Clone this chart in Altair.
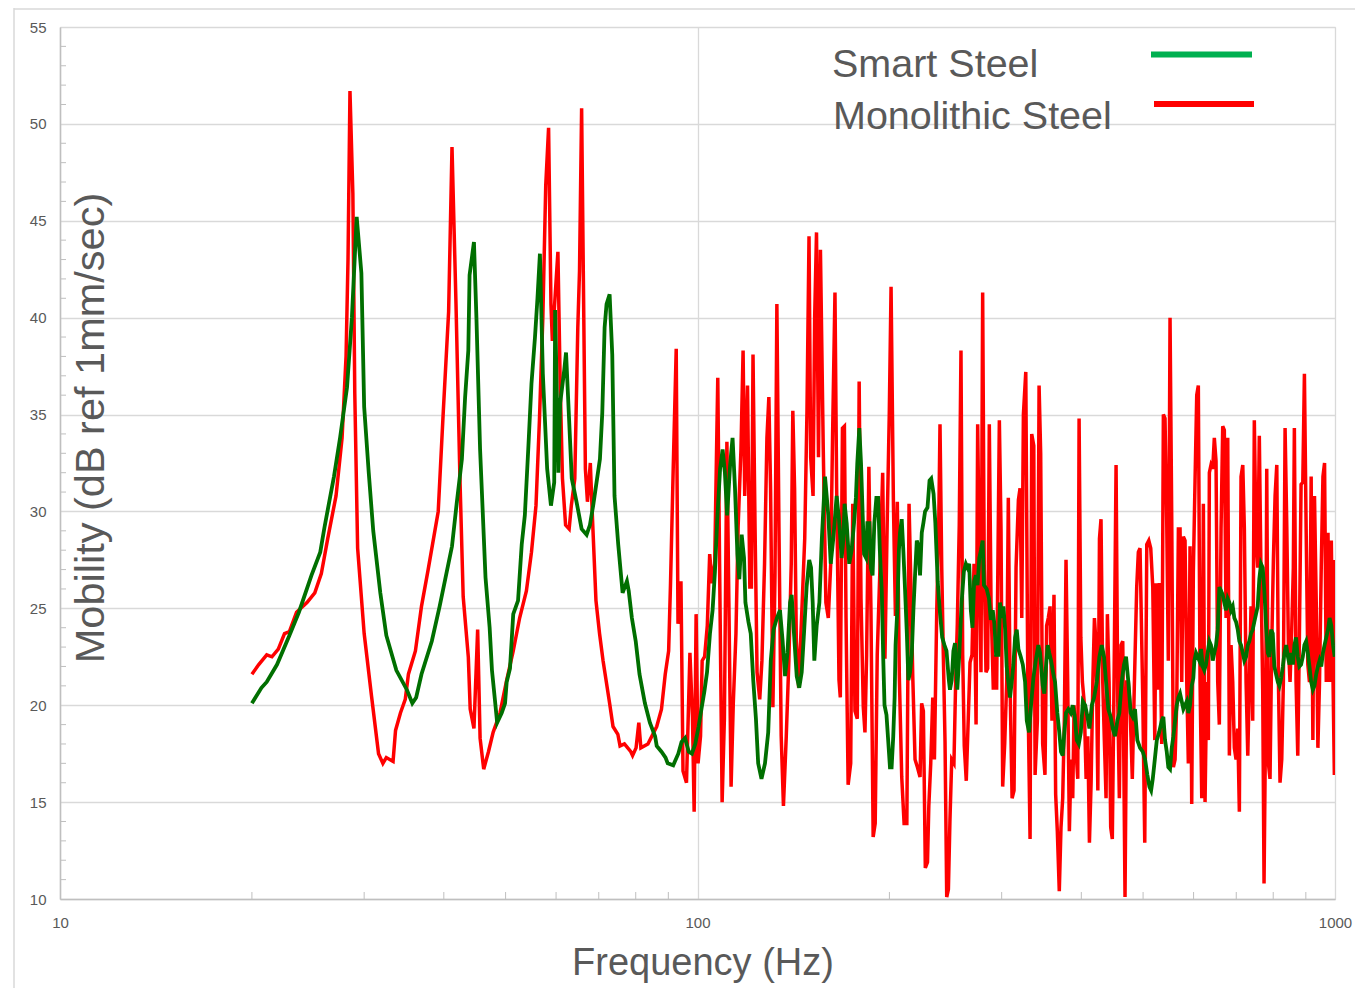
import altair as alt
import pandas as pd

series_names = ["Smart Steel", "Monolithic Steel"]
line_colors = ["#006f00", "#ff0000"]
legend_colors = ["#00b050", "#ff0000"]
x_title = "Frequency (Hz)"
y_title = "Mobility (dB ref 1mm/sec)"

mono_freq = [
    20.0, 20.5, 21.1, 21.5, 22.0, 22.5, 22.9, 23.5, 24.4, 25.1, 25.7, 26.3, 27.1, 27.7, 28.1, 28.3, 28.5, 28.8, 29.0, 29.3,
    30.0, 30.8, 31.6, 32.1, 32.5, 33.3, 33.6, 34.2, 34.8, 35.2, 36.1, 36.9, 37.8, 39.2, 39.9, 40.7, 41.2, 41.8, 42.4, 42.9,
    43.7, 44.0, 44.6, 45.2, 45.6, 46.2, 47.0, 47.8, 49.0, 50.2, 51.4, 52.6, 53.9, 54.9, 55.8, 56.5, 57.2, 57.8, 58.4, 58.9,
    59.2, 59.9, 60.4, 60.9, 61.4, 62.1, 62.9, 63.4, 64.2, 64.9, 65.3, 65.8, 66.2, 66.7, 67.2, 67.9, 68.4, 69.3, 70.2, 71.1,
    72.8, 73.7, 75.0, 75.6, 76.8, 78.6, 79.1, 80.1, 80.9, 81.5, 83.6, 86.3, 87.8, 89.0, 90.1, 90.7, 91.6, 92.6, 93.2, 94.2,
    94.9, 96.1, 97.3, 98.2, 98.8, 99.5, 100.2, 101.1, 101.7, 102.6, 103.6, 104.5, 105.4, 106.4, 107.6, 108.3, 109.3, 110.2, 111.2, 112.0,
    112.9, 113.8, 114.9, 115.8, 117.0, 117.9, 118.6, 119.8, 120.8, 121.5, 122.2, 123.1, 124.0, 125.2, 126.2, 127.4, 128.5, 129.4, 130.2, 131.3,
    132.3, 133.2, 134.2, 135.3, 136.4, 137.8, 139.1, 140.3, 141.1, 142.0, 142.9, 144.1, 145.5, 147.3, 148.5, 149.6, 150.5, 151.8, 152.7, 153.7,
    154.8, 155.9, 157.5, 159.0, 160.4, 161.8, 162.9, 164.3, 165.3, 166.7, 167.5, 168.8, 170.0, 171.0, 172.3, 173.9, 175.2, 176.6, 178.1, 179.3,
    180.5, 182.0, 183.1, 184.2, 185.7, 187.1, 188.6, 190.0, 191.4, 193.3, 195.2, 196.8, 198.5, 199.9, 201.2, 202.9, 204.4, 205.8, 207.3, 209.1,
    210.9, 213.0, 214.7, 216.2, 217.6, 219.4, 221.3, 223.4, 224.7, 226.1, 227.7, 229.5, 230.6, 232.2, 233.9, 235.3, 237.3, 239.0, 240.1, 241.6,
    243.0, 244.5, 246.0, 247.5, 248.9, 250.5, 252.5, 254.1, 255.6, 257.4, 259.0, 260.6, 262.1, 264.0, 265.9, 267.6, 269.5, 271.5, 273.5, 275.1,
    276.7, 278.4, 280.1, 281.7, 283.5, 285.2, 286.9, 288.7, 291.1, 292.9, 294.6, 297.5, 299.3, 301.1, 303.3, 305.5, 307.3, 309.2, 311.5, 313.7,
    316.0, 318.7, 320.6, 322.6, 324.5, 327.3, 329.7, 332.4, 334.4, 336.9, 338.5, 341.3, 343.4, 345.4, 347.9, 350.8, 352.9, 355.0, 357.3, 359.8,
    362.4, 364.6, 366.8, 369.4, 371.7, 374.0, 376.2, 378.5, 380.8, 383.1, 385.5, 387.8, 389.7, 392.5, 394.9, 396.8, 399.3, 401.6, 404.1, 407.0,
    409.5, 411.9, 414.4, 417.0, 419.4, 422.0, 424.6, 427.1, 429.5, 432.2, 434.7, 437.4, 439.5, 442.2, 444.8, 447.4, 450.2, 453.5, 456.3, 458.9,
    461.7, 464.6, 468.4, 471.3, 474.1, 476.9, 480.9, 484.4, 488.6, 491.5, 494.5, 499.4, 503.0, 506.7, 510.4, 514.0, 517.8, 521.6, 524.0, 527.3,
    530.3, 534.8, 538.0, 541.2, 544.6, 547.7, 551.1, 554.5, 557.8, 561.2, 564.7, 568.0, 571.4, 574.9, 578.3, 581.8, 585.4, 588.8, 592.4, 596.0,
    599.5, 603.2, 606.9, 610.4, 614.2, 618.0, 621.6, 625.4, 629.2, 632.9, 635.2, 639.0, 643.0, 646.7, 650.7, 654.7, 658.5, 662.6, 666.6, 670.5,
    674.7, 678.8, 682.8, 687.0, 691.2, 695.2, 699.5, 703.8, 707.9, 712.2, 716.7, 720.8, 725.3, 729.8, 733.9, 738.4, 742.9, 747.2, 751.8, 756.4,
    760.8, 765.5, 770.2, 773.9, 778.7, 781.5, 786.2, 790.8, 795.7, 800.5, 805.4, 810.4, 815.2, 819.9, 825.0, 829.9, 835.0, 840.2, 845.1, 850.1,
    855.3, 860.3, 863.5, 868.8, 874.2, 879.3, 884.7, 890.2, 895.4, 901.0, 906.5, 911.9, 917.5, 923.2, 928.6, 934.3, 940.1, 945.6, 951.5, 957.4,
    963.0, 969.0, 975.0, 980.7, 986.8, 993.0, 997.7, 1000.0,
]
mono_db = [
    21.6, 22.1, 22.6, 22.5, 22.9, 23.7, 23.8, 24.8, 25.3, 25.8, 26.8, 28.6, 30.8, 33.8, 38.0, 43.0, 51.7, 46.4, 36.1, 28.1,
    23.7, 20.5, 17.5, 17.0, 17.3, 17.1, 18.7, 19.6, 20.3, 21.6, 22.8, 25.1, 27.0, 30.0, 35.0, 40.3, 48.8, 40.7, 31.7, 25.6,
    22.5, 19.8, 18.8, 23.9, 18.3, 16.7, 17.6, 18.6, 19.6, 21.3, 22.8, 24.5, 25.9, 27.9, 30.3, 34.7, 40.0, 46.8, 49.8, 40.7,
    38.8, 41.5, 43.4, 36.6, 31.7, 29.3, 29.1, 30.3, 31.7, 39.5, 42.4, 50.8, 42.4, 32.2, 30.5, 32.5, 29.8, 25.4, 23.7, 22.3,
    20.1, 18.9, 18.5, 17.9, 18.0, 17.6, 17.4, 17.8, 19.1, 17.8, 18.0, 18.9, 19.8, 21.6, 22.8, 26.2, 32.2, 38.4, 24.2, 26.4,
    16.6, 16.0, 22.7, 19.4, 14.5, 24.7, 17.0, 18.4, 22.3, 22.5, 24.1, 27.8, 26.3, 27.3, 36.9, 27.3, 15.0, 19.3, 33.6, 25.3,
    15.8, 20.1, 23.7, 29.2, 33.2, 38.3, 30.8, 36.5, 26.1, 26.1, 38.1, 29.2, 21.7, 20.3, 22.3, 27.3, 33.8, 35.9, 31.2, 19.9,
    26.7, 40.7, 29.2, 18.4, 14.8, 18.4, 22.3, 27.3, 35.2, 31.2, 23.3, 20.9, 24.2, 28.6, 35.2, 44.2, 32.8, 30.8, 40.1, 44.4,
    32.8, 43.5, 33.2, 25.3, 24.5, 27.3, 34.0, 41.3, 31.2, 21.3, 20.4, 34.3, 34.4, 24.5, 15.9, 17.0, 30.4, 19.7, 19.3, 36.7,
    25.5, 19.9, 18.6, 22.6, 32.3, 24.9, 13.2, 13.9, 22.6, 27.1, 32.0, 22.4, 29.8, 35.0, 41.6, 30.5, 24.6, 30.5, 21.5, 16.3,
    13.9, 13.9, 30.4, 26.0, 21.5, 17.2, 16.8, 16.3, 20.1, 19.7, 11.6, 11.9, 14.8, 17.0, 20.4, 17.2, 24.9, 29.3, 34.5, 27.1,
    22.6, 18.1, 10.1, 10.5, 14.1, 17.2, 17.0, 21.3, 24.2, 29.3, 38.3, 22.6, 17.9, 16.1, 19.3, 22.2, 22.6, 27.3, 19.0, 34.5,
    27.6, 21.7, 41.3, 27.1, 21.7, 21.9, 34.5, 25.3, 20.8, 22.6, 20.8, 34.7, 29.1, 15.8, 18.0, 21.2, 30.7, 21.2, 15.2, 15.6,
    27.1, 30.6, 31.2, 24.5, 35.0, 37.2, 21.2, 13.1, 34.0, 33.4, 16.4, 19.2, 36.5, 33.0, 18.0, 16.4, 24.1, 24.5, 25.1, 19.2,
    25.7, 15.4, 13.5, 10.4, 13.7, 15.2, 19.2, 27.5, 21.2, 13.5, 17.2, 15.2, 20.0, 17.6, 16.2, 34.8, 23.5, 21.2, 20.2, 16.2,
    18.4, 12.9, 16.0, 21.2, 24.5, 23.1, 15.6, 28.6, 29.6, 21.2, 18.2, 15.2, 24.7, 21.2, 13.7, 13.1, 21.2, 32.4, 20.2, 15.2,
    23.1, 23.3, 10.1, 21.2, 21.2, 20.0, 16.2, 21.0, 26.1, 27.9, 28.1, 20.4, 12.9, 28.3, 28.5, 28.1, 26.1, 18.2, 26.3, 20.8,
    26.3, 18.0, 35.0, 34.8, 29.4, 22.3, 40.0, 29.6, 16.8, 17.2, 20.2, 29.1, 29.1, 21.2, 28.7, 28.5, 21.2, 17.0, 28.2, 14.9,
    26.9, 31.6, 36.0, 36.5, 21.2, 15.2, 30.4, 15.0, 21.2, 18.2, 32.0, 32.4, 32.2, 33.8, 32.6, 21.2, 19.0, 29.1, 34.4, 34.2,
    24.5, 33.8, 17.4, 23.1, 21.2, 17.8, 17.2, 18.8, 14.5, 31.8, 32.4, 29.1, 21.2, 17.4, 21.2, 25.1, 19.2, 34.7, 28.7, 27.1,
    33.9, 26.7, 20.8, 10.8, 20.0, 32.2, 17.0, 16.2, 23.1, 27.5, 30.8, 32.4, 21.2, 16.0, 17.2, 21.2, 34.3, 29.2, 23.1, 21.2,
    23.9, 27.1, 34.3, 21.2, 17.4, 23.5, 31.4, 31.5, 37.1, 29.1, 22.1, 21.2, 31.8, 18.2, 30.8, 25.5, 17.8, 21.2, 27.1, 31.8,
    32.5, 21.2, 28.9, 21.2, 28.5, 21.2, 16.4, 27.5,
]

smart_freq = [
    20.0, 20.7, 21.1, 21.9, 22.9, 23.7, 24.8, 25.6, 26.0, 26.9, 27.5, 28.2, 28.7, 29.2, 29.7, 30.0, 30.5, 31.0, 31.8, 32.5,
    33.7, 35.0, 35.7, 36.2, 36.9, 38.3, 39.4, 40.2, 41.2, 41.9, 42.7, 43.2, 43.7, 43.9, 44.6, 45.0, 45.6, 46.5, 47.2, 47.6,
    48.1, 48.5, 49.3, 49.9, 50.2, 50.8, 51.4, 52.3, 53.0, 53.6, 54.3, 54.9, 55.6, 56.1, 56.6, 57.2, 58.1, 58.9, 59.6, 59.8,
    60.5, 60.9, 61.8, 62.2, 62.9, 63.5, 64.6, 65.8, 67.0, 67.8, 68.6, 70.3, 70.9, 71.5, 72.0, 72.8, 73.5, 74.1, 75.1, 76.3,
    77.5, 78.0, 78.9, 80.0, 81.1, 82.7, 84.2, 85.8, 86.3, 87.8, 89.1, 89.8, 91.6, 93.3, 94.4, 95.6, 96.9, 98.0, 99.2, 100.4,
    101.2, 102.5, 103.5, 104.6, 105.6, 106.5, 107.4, 108.5, 109.5, 110.4, 111.3, 112.5, 113.5, 114.5, 115.5, 116.3, 117.3, 118.3, 118.9, 120.2,
    121.2, 122.3, 123.5, 124.5, 126.0, 127.6, 129.1, 130.3, 131.6, 133.2, 134.7, 136.0, 137.2, 138.4, 139.7, 140.5, 141.7, 143.1, 144.4, 145.7,
    146.9, 148.3, 149.7, 150.7, 151.6, 152.5, 153.8, 155.3, 156.7, 158.5, 160.4, 161.8, 163.3, 165.3, 166.7, 168.3, 169.3, 170.1, 171.4, 173.0,
    174.5, 176.0, 177.2, 178.1, 179.4, 180.5, 181.6, 182.5, 183.8, 184.7, 186.1, 187.0, 188.2, 189.4, 190.8, 192.0, 193.2, 194.6, 195.6, 196.5,
    197.9, 199.2, 200.4, 201.6, 202.8, 203.8, 204.5, 205.8, 207.0, 207.8, 209.1, 210.3, 211.6, 213.0, 214.2, 215.5, 216.8, 218.1, 219.4, 220.8,
    222.1, 223.4, 224.8, 226.1, 227.5, 229.5, 231.2, 232.6, 234.6, 236.1, 238.1, 239.9, 242.0, 244.0, 245.8, 247.9, 248.9, 250.5, 252.0, 253.5,
    255.6, 257.4, 259.6, 261.7, 263.6, 265.2, 266.8, 268.4, 270.0, 271.6, 273.3, 275.0, 276.7, 278.4, 280.1, 281.4, 284.2, 286.6, 288.4, 290.5,
    292.2, 294.0, 296.5, 298.2, 300.1, 301.9, 303.8, 305.5, 307.3, 309.2, 311.1, 313.0, 314.9, 316.8, 318.7, 321.4, 323.8, 326.5, 328.5, 331.2,
    333.6, 336.4, 339.3, 342.5, 344.6, 348.0, 350.0, 352.1, 354.3, 356.3, 358.6, 361.6, 363.8, 366.8, 369.4, 371.7, 374.0, 376.2, 378.5, 381.7,
    385.0, 387.8, 390.7, 393.5, 396.4, 399.3, 402.2, 405.6, 409.0, 411.9, 415.5, 418.9, 423.0, 427.0, 430.6, 434.2, 437.4, 441.0, 444.8, 448.1,
    451.8, 455.6, 458.9, 462.8, 466.7, 470.1, 474.1, 478.1, 481.6, 485.6, 489.7, 494.5, 499.4, 503.6, 507.8, 511.5, 514.7, 517.8, 521.6, 525.4,
    529.8, 534.8, 538.0, 541.2, 544.6, 547.7, 551.1, 554.5, 557.8, 561.2, 564.7, 568.0, 571.4, 574.9, 578.3, 581.8, 585.4, 588.8, 592.4, 596.0,
    599.5, 601.7, 605.3, 609.0, 612.6, 616.4, 620.1, 623.7, 627.5, 631.2, 635.2, 639.0, 643.0, 646.7, 650.7, 654.7, 658.5, 662.6, 666.6, 670.5,
    674.7, 678.8, 682.8, 687.0, 691.2, 695.2, 699.5, 703.8, 707.9, 712.2, 716.7, 720.8, 725.3, 729.8, 733.9, 738.4, 742.9, 747.2, 751.8, 756.4,
    760.8, 765.5, 770.2, 774.8, 779.6, 784.4, 788.9, 793.8, 798.7, 803.3, 808.3, 813.4, 818.1, 823.2, 828.3, 833.1, 838.3, 843.6, 848.6, 853.7,
    859.0, 863.5, 868.8, 874.2, 879.3, 884.7, 890.2, 895.4, 901.0, 906.5, 911.9, 917.5, 923.2, 928.6, 934.3, 940.1, 945.6, 951.5, 957.4, 963.0,
    969.0, 975.0, 980.7, 986.8, 993.0, 998.8,
]
smart_db = [
    20.1, 20.9, 21.2, 22.1, 23.6, 24.8, 26.7, 27.9, 29.2, 31.8, 33.8, 36.4, 40.0, 45.2, 42.3, 35.4, 32.0, 29.0, 25.8, 23.6,
    21.8, 20.8, 20.1, 20.4, 21.6, 23.3, 25.1, 26.5, 28.2, 30.4, 32.7, 35.9, 38.3, 42.2, 43.9, 40.0, 33.2, 26.6, 24.0, 21.8,
    20.3, 19.1, 19.6, 20.1, 21.2, 21.9, 24.7, 25.4, 28.3, 29.8, 33.4, 36.6, 39.0, 41.0, 43.3, 37.1, 32.2, 30.3, 31.5, 40.4,
    32.0, 35.6, 37.3, 38.2, 34.7, 31.7, 30.5, 29.1, 28.8, 29.3, 30.3, 32.7, 35.1, 39.5, 40.7, 41.2, 38.1, 30.8, 28.3, 25.8,
    26.4, 25.9, 24.5, 23.3, 21.6, 20.1, 19.1, 18.4, 17.9, 17.6, 17.3, 17.0, 16.9, 17.5, 18.1, 18.3, 17.6, 17.5, 18.0, 18.9,
    19.6, 20.7, 21.7, 23.7, 24.9, 26.9, 29.6, 32.2, 33.2, 32.0, 29.8, 32.4, 33.8, 31.2, 27.8, 26.5, 28.8, 27.6, 25.3, 24.3,
    23.7, 21.3, 19.3, 17.0, 16.2, 17.0, 18.6, 22.3, 23.9, 24.5, 24.9, 23.3, 21.5, 22.7, 25.3, 25.7, 23.7, 21.5, 20.9, 21.7,
    23.7, 26.1, 27.5, 27.1, 25.3, 22.3, 24.1, 25.3, 28.6, 31.8, 29.8, 27.3, 28.6, 30.8, 29.6, 27.6, 28.5, 30.4, 29.4, 27.3,
    28.0, 29.4, 30.7, 32.5, 34.3, 32.5, 29.8, 27.8, 27.6, 29.4, 29.4, 27.1, 26.7, 29.4, 30.7, 30.7, 28.0, 25.8, 22.4, 20.0,
    19.5, 18.1, 16.8, 16.8, 18.4, 20.4, 23.1, 24.9, 28.0, 28.9, 29.6, 28.0, 26.0, 23.7, 21.3, 21.7, 22.6, 24.9, 26.7, 28.5,
    28.2, 26.7, 28.9, 29.4, 30.0, 30.2, 31.6, 31.7, 30.9, 29.4, 26.4, 24.9, 23.5, 23.1, 22.8, 21.3, 20.8, 21.3, 22.8, 23.2,
    20.8, 22.6, 25.3, 26.9, 27.3, 27.1, 27.3, 24.9, 24.0, 26.4, 26.7, 26.2, 27.6, 28.0, 28.5, 26.2, 26.0, 25.5, 24.4, 24.9,
    24.2, 22.6, 22.6, 25.3, 24.5, 25.1, 23.9, 22.0, 21.2, 20.4, 21.2, 22.1, 23.5, 23.9, 22.9, 22.5, 22.1, 21.2, 19.2, 18.6,
    20.0, 21.4, 22.3, 23.1, 22.7, 21.0, 20.6, 22.0, 23.1, 22.7, 22.3, 21.6, 21.2, 19.6, 18.6, 17.6, 17.4, 18.6, 19.6, 19.8,
    19.6, 20.0, 19.4, 18.2, 18.0, 18.6, 20.2, 20.0, 19.4, 18.8, 20.0, 20.4, 21.2, 22.5, 23.1, 22.5, 21.2, 19.8, 19.4, 18.8,
    18.4, 19.2, 19.6, 21.2, 22.1, 22.5, 21.2, 19.6, 19.4, 19.8, 18.2, 17.8, 17.6, 17.2, 16.4, 15.8, 15.6, 16.2, 17.2, 18.2,
    18.6, 19.2, 19.4, 18.2, 17.6, 16.8, 16.7, 17.8, 18.4, 19.2, 20.0, 20.4, 20.6, 20.2, 19.8, 20.0, 20.2, 19.6, 20.0, 21.0,
    21.4, 22.3, 22.7, 22.5, 22.3, 22.9, 22.0, 21.8, 22.1, 22.7, 23.3, 23.1, 22.3, 22.7, 23.1, 23.9, 26.1, 25.9, 25.7, 25.3,
    24.9, 25.5, 25.3, 24.9, 25.1, 24.5, 24.3, 23.9, 23.3, 23.1, 22.7, 22.3, 22.5, 23.1, 23.3, 23.7, 23.9, 24.3, 24.7, 25.1,
    26.5, 27.3, 27.1, 25.9, 24.1, 22.7, 22.5, 23.9, 23.7, 22.0, 21.6, 21.2, 21.0, 21.4, 22.0, 22.7, 23.1, 22.5, 22.1, 22.7,
    22.1, 23.1, 23.5, 22.5, 22.0, 22.1, 22.5, 23.1, 23.3, 22.7, 22.0, 21.2, 20.8, 21.0, 21.6, 22.0, 22.3, 22.0, 22.7, 23.1,
    23.5, 23.9, 24.5, 24.1, 23.1, 22.5,
]

y_major = [10, 15, 20, 25, 30, 35, 40, 45, 50, 55]
y_minor = [11, 12, 13, 14, 16, 17, 18, 19, 21, 22, 23, 24, 26, 27, 28, 29, 31, 32, 33, 34,
           36, 37, 38, 39, 41, 42, 43, 44, 46, 47, 48, 49, 51, 52, 53, 54]
x_major = [10, 100, 1000]
x_minor = [20, 30, 40, 50, 60, 70, 80, 90, 200, 300, 400, 500, 600, 700, 800, 900]

W, H = 1275, 872
FONT = "Liberation Sans"
TXT = "#595959"
GRID = "#d9d9d9"
AXIS = "#bfbfbf"

x_scale = alt.Scale(type="log", domain=[10, 1000], nice=False)
y_scale = alt.Scale(domain=[10, 55], nice=False, zero=False)

mono_df = pd.DataFrame({"freq": mono_freq, "db": mono_db})
smart_df = pd.DataFrame({"freq": smart_freq, "db": smart_db})

x_axis = alt.Axis(values=x_major, format="d", title=None, grid=True, gridColor=GRID, gridWidth=1.3,
                  domainColor=AXIS, domainWidth=1.5, ticks=False, labelFontSize=15, labelColor=TXT,
                  labelFont=FONT, labelPadding=16, labelFlush=False)
y_axis = alt.Axis(values=y_major, title=None, grid=True, gridColor=GRID, gridWidth=1.3,
                  domainColor=AXIS, domainWidth=1.5, ticks=False, labelFontSize=15, labelColor=TXT,
                  labelFont=FONT, labelPadding=14)

X = alt.X("freq:Q", scale=x_scale, axis=x_axis)
Y = alt.Y("db:Q", scale=y_scale, axis=y_axis)

red = alt.Chart(mono_df).mark_line(color=line_colors[1], strokeWidth=3.5, clip=True).encode(x=X, y=Y)
green = alt.Chart(smart_df).mark_line(color=line_colors[0], strokeWidth=3.8, clip=True).encode(x=X, y=Y)

ymin_df = pd.DataFrame({"db": y_minor})
xmin_df = pd.DataFrame({"freq": x_minor})
ymin = alt.Chart(ymin_df).mark_rule(color=AXIS, strokeWidth=1).encode(
    y=Y, x=alt.value(0), x2=alt.value(6))
xmin = alt.Chart(xmin_df).mark_rule(color=AXIS, strokeWidth=1).encode(
    x=X, y=alt.value(H - 7), y2=alt.value(H))

one = pd.DataFrame({"k": [0]})
frame_left = alt.Chart(one).mark_rule(color="#d9d9d9", strokeWidth=1.5).encode(
    x=alt.value(-46), y=alt.value(-19), y2=alt.value(H + 90))
frame_top = alt.Chart(one).mark_rule(color="#d9d9d9", strokeWidth=1.5).encode(
    x=alt.value(-46), x2=alt.value(W + 30), y=alt.value(-18))

def label(text, x, y, size, angle=0, align="left"):
    return alt.Chart(pd.DataFrame({"t": [text]})).mark_text(
        font=FONT, fontSize=size, color=TXT, align=align, baseline="alphabetic", angle=angle
    ).encode(text="t:N", x=alt.value(x), y=alt.value(y))

leg_smart = label(series_names[0], 772, 50, 39.5)
leg_mono = label(series_names[1], 773, 102, 39.5)
xt = label(x_title, 643, 948, 38, align="center")
yt = label(y_title, 44, 401, 41.5, angle=270, align="center")

leg_line_g = alt.Chart(one).mark_rule(color=legend_colors[0], strokeWidth=6).encode(
    x=alt.value(1091), x2=alt.value(1192), y=alt.value(27.5))
leg_line_r = alt.Chart(one).mark_rule(color=legend_colors[1], strokeWidth=6).encode(
    x=alt.value(1094), x2=alt.value(1194), y=alt.value(77))

chart = alt.layer(
    red, green, ymin, xmin, frame_left, frame_top, leg_smart, leg_mono, xt, yt, leg_line_g, leg_line_r
).properties(
    width=W, height=H,
    padding={"left": 52, "top": 19, "right": 20, "bottom": 89},
    autosize=alt.AutoSizeParams(type="none"),
).configure_view(stroke=None).configure(font=FONT, background="white")

chart.save("out.html", embed_options={"renderer": "svg", "actions": False})
